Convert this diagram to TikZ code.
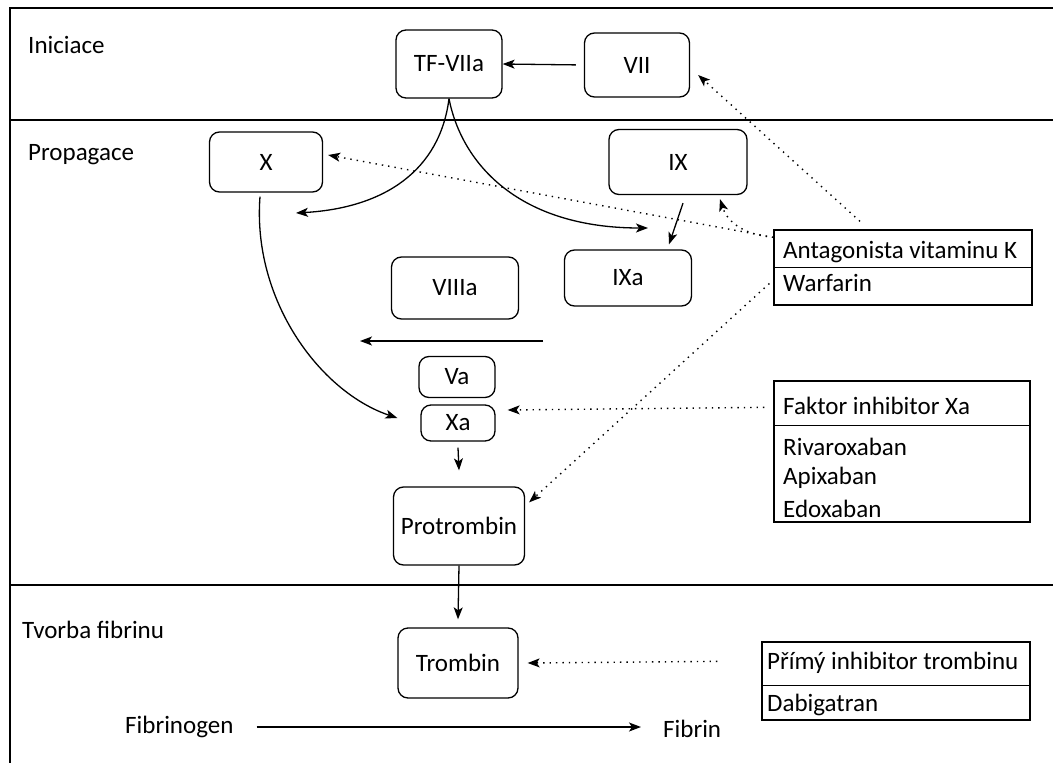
\documentclass[tikz,border=0pt]{standalone}
\usepackage{fontspec}
\setmainfont{Carlito}
\usetikzlibrary{arrows.meta}
\begin{document}
\begin{tikzpicture}[x=1pt,y=-1pt,
  every node/.style={font=\fontsize{25}{30}\selectfont},
  box/.style={draw, rounded corners=10pt, line width=1.3pt, inner sep=0pt},
  tbl/.style={draw, line width=1.3pt, inner sep=0pt},
  lbl/.style={anchor=west, inner sep=0pt},
  frame/.style={line width=1.4pt},
  arr/.style={line width=1.3pt, -{Stealth[length=12pt,width=9pt,inset=3pt]}},
  dot/.style={line width=1.4pt, dash pattern=on 1.4pt off 5pt, -{Stealth[length=12pt,width=9pt,inset=3pt]}}]
\useasboundingbox (0,0) rectangle (1053,763);
% frame
\draw[frame] (1053,8) -- (10,8) -- (10,763);
\draw[frame] (10,120) -- (1053,120);
\draw[frame] (10,585) -- (1053,585);
% section labels
\node[lbl] (lini) at (28,45) {Iniciace};
\node[lbl] (lpro) at (28,155) {Propagace};
\node[lbl] (ltvo) at (22,630) {Tvorba fibrinu};
% boxes
\node[box, minimum width=106, minimum height=68] (tf) at (449,64) {TF-VIIa};
\node[box, minimum width=105, minimum height=64] (vii) at (637,65) {VII};
\node[box, minimum width=113, minimum height=60] (x) at (266,162) {X};
\node[box, minimum width=138, minimum height=65] (ix) at (678,162) {IX};
\node[box, minimum width=127, minimum height=56] (ixa) at (628,278) {IXa};
\node[box, minimum width=127, minimum height=62] (viiia) at (455,288) {VIIIa};
\node[box, minimum width=76, minimum height=41] (va) at (457,377) {Va};
\node[box, minimum width=74, minimum height=36] (xa) at (458,423) {Xa};
\node[box, minimum width=131, minimum height=78] (pt) at (459,526) {Protrombin};
\node[box, minimum width=120, minimum height=70] (tb) at (458,663) {Trombin};
% tables
\node[tbl, minimum width=258, minimum height=75] (ak) at (903,267.5) {};
\draw[line width=1.3pt] (ak.west) -- (ak.east);
\node[lbl] (akt) at (783,252) {Antagonista vitaminu K};
\node[lbl] (akw) at (783,283) {Warfarin};
\node[tbl, minimum width=256, minimum height=141] (fx) at (902,451.5) {};
\draw[line width=1.3pt] ([yshift=-45pt]fx.north west) -- ([yshift=-45pt]fx.north east);
\node[lbl] (fxt) at (783,406) {Faktor inhibitor Xa};
\node[lbl] (fx1) at (783,447) {Rivaroxaban};
\node[lbl] (fx2) at (783,478) {Apixaban};
\node[lbl] (fx3) at (783,509) {Edoxaban};
\node[tbl, minimum width=268, minimum height=78] (pti) at (896,681) {};
\draw[line width=1.3pt] ([yshift=-44pt]pti.north west) -- ([yshift=-44pt]pti.north east);
\node[lbl] (ptt) at (767,663) {Přímý inhibitor trombinu};
\node[lbl] (ptd) at (767,705) {Dabigatran};
% bottom labels
\node[lbl] (fg) at (125,727) {Fibrinogen};
\node[lbl] (fb) at (663,729) {Fibrin};
% coordinates
\coordinate (c1) at (296,213);
\coordinate (c2) at (648,228);
\coordinate (h1) at (543,341);
\coordinate (h2) at (360,341);
% solid arrows
\draw[arr, shorten <=8pt] (vii.west) -- (tf.east);
\draw[arr] (tf.south) .. controls (440,170) and (385,208) .. (c1);
\draw[arr] (tf.south) .. controls (462,165) and (520,228) .. (c2);
\draw[arr] ([xshift=5pt,yshift=-8pt]ix.south) -- ([xshift=41pt,yshift=5pt]ixa.north);
\draw[arr] ([xshift=-6pt,yshift=-4pt]x.south) .. controls (252,300) and (320,392) .. ([xshift=-23pt,yshift=5pt]xa.west);
\draw[arr] (h1) -- (h2);
\draw[arr] ([yshift=-6pt]xa.south) -- ([yshift=16pt]pt.north);
\draw[arr] (pt.south) -- ([yshift=8pt]tb.north);
\draw[arr, shorten <=23pt, shorten >=22pt] (fg.east) -- ([yshift=2pt]fb.west);
% dotted arrows
\draw[dot] ([yshift=-8pt]ak.north west) -- ([xshift=5pt,yshift=7pt]x.east);
\draw[dot] ([yshift=-8pt]ak.north west) .. controls (738,234) and (726,218) .. ([xshift=42pt,yshift=-4pt]ix.south);
\draw[dot] ([xshift=-43pt,yshift=8pt]ak.north) -- ([xshift=8pt,yshift=-10pt]vii.east);
\draw[dot] ([xshift=-4pt,yshift=-16pt]ak.west) -- ([xshift=4pt,yshift=-16pt]pt.north east);
\draw[dot] ([xshift=-9pt,yshift=-27pt]fx.north west) -- ([xshift=12pt,yshift=13pt]xa.east);
\draw[dot] ([xshift=-44pt,yshift=-20pt]pti.north west) -- ([xshift=9pt]tb.east);
\end{tikzpicture}
\end{document}
